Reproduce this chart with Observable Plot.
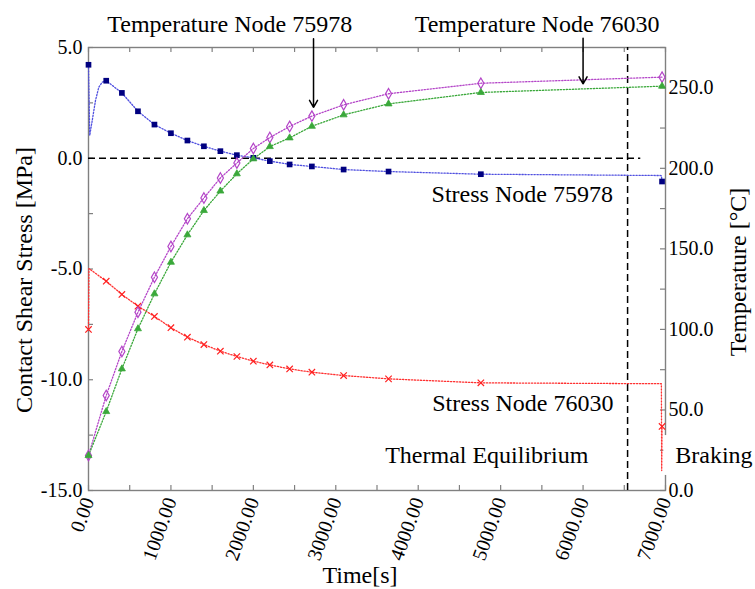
<!DOCTYPE html>
<html>
<head>
<meta charset="utf-8">
<script src="https://cdn.jsdelivr.net/npm/d3@7"></script>
<script src="https://cdn.jsdelivr.net/npm/@observablehq/plot@0.6"></script>
<style>
  html, body { margin: 0; padding: 0; background: #fff; }
  #chart { width: 755px; height: 589px; }
  #chart svg, #chart svg g, #chart svg text, #chart svg tspan { font-family: 'Liberation Serif', 'Times New Roman', serif !important; font-variant: normal !important; }
</style>
</head>
<body>
<div id="chart"></div>
<script>
// ---- data (time in s, stress in MPa, temperature in °C) ----
const markTimes   = [0, 215, 405, 600, 800, 1000, 1200, 1400, 1600, 1800, 2000, 2200, 2440, 2710, 3095, 3640, 4760, 6958];
const stress75978 = [4.22, 3.50, 2.95, 2.12, 1.52, 1.13, 0.80, 0.54, 0.32, 0.14, 0.02, -0.13, -0.28, -0.37, -0.51, -0.60, -0.72, -1.05];
const stress76030 = [-7.73, -5.55, -6.15, -6.68, -7.14, -7.65, -8.08, -8.41, -8.71, -8.95, -9.16, -9.33, -9.51, -9.66, -9.81, -9.96, -10.14, -12.11];
const temp75978   = [21.7, 59.0, 86.3, 110.7, 132.4, 151.5, 168.7, 181.6, 194.0, 203.3, 212.3, 219.1, 226.0, 232.4, 239.4, 246.3, 252.8, 256.6];
const temp76030   = [21.7, 49.0, 75.5, 100.4, 122.1, 141.7, 158.7, 173.8, 185.9, 196.6, 205.9, 213.5, 218.9, 226.1, 233.2, 240.0, 247.1, 251.0];

// extra (unmarked) samples of the dotted curves
const extra75978Times  = [15, 45, 85, 125, 166, 6950];
const extra75978Stress = [1.03, 1.70, 2.61, 3.21, 3.43, -0.78];
const extra76030Times  = [5, 6950, 6954];
const extra76030Stress = [-4.98, -10.18, -14.10];

// axes
const xTickLabels = [0, 1000, 2000, 3000, 4000, 5000, 6000, 7000];
const xTicksAll   = d3.range(0, 7001, 500);
const yTickLabels = [-15, -10, -5, 0, 5];
const yTicksAll   = d3.range(-15, 5.01, 2.5);
const tTickLabels = [0, 50, 100, 150, 200, 250];
const tTicksAll   = d3.range(0, 275.1, 25);

// reference lines
const zeroLineEnd = 6700;
const phaseTime = 6540;

// annotations
const noteText   = ["Temperature Node 75978", "Temperature Node 76030", "Stress Node 75978", "Stress Node 76030", "Thermal Equilibrium", "Braking"];
const noteTime   = [1713, 5443, 6362, 6369, 3599, 7118];
const noteStress = [5.70, 5.70, -1.98, -11.42, -13.77, -13.77];
const noteAnchor = ["middle", "middle", "end", "end", "start", "start"];
const arrowTime  = [2730, 6000];
const arrowFrom  = [5.40, 5.42];
const arrowTo    = [2.30, 3.36];

// ---- helpers ----
const tMax = 275, yMin = -15, yMax = 5;
const toY = (t) => yMin + t * (yMax - yMin) / tMax;
const fromY = (y) => (y - yMin) * tMax / (yMax - yMin);

const pts = (times, vals) => times.map((t, i) => ({t, v: vals[i]}));
const s1Marks = pts(markTimes, stress75978);
const s2Marks = pts(markTimes, stress76030);
const t1Marks = pts(markTimes, temp75978.map(toY));
const t2Marks = pts(markTimes, temp76030.map(toY));
const s1Line = s1Marks.concat(pts(extra75978Times, extra75978Stress)).sort((a, b) => a.t - b.t);
const s2Line = s2Marks.concat(pts(extra76030Times, extra76030Stress)).sort((a, b) => a.t - b.t);

const notes = noteText.map((text, i) => ({text, t: noteTime[i], v: noteStress[i], anchor: noteAnchor[i]}));
const arrows = arrowTime.map((t, i) => ({t, v1: arrowFrom[i], v2: arrowTo[i]}));

const gray = "#808080";
const dots = "1.3,1.7";
const font = "'Liberation Serif', 'Times New Roman', serif";
const W = 755, H = 589, mL = 88, mR = 90, mT = 47, mB = 99;
const fw = W - mL - mR, fh = H - mT - mB, tk = 5;

const noteMark = (anchor) => Plot.text(notes.filter((d) => d.anchor === anchor),
  {x: "t", y: "v", text: "text", textAnchor: anchor, lineAnchor: "bottom", fontSize: 24, fontFamily: font, fill: "#000", clip: false});

const chart = Plot.plot({
  width: W,
  height: H,
  marginLeft: mL,
  marginRight: mR,
  marginTop: mT,
  marginBottom: mB,
  x: {domain: [0, 7000]},
  y: {domain: [yMin, yMax]},
  style: {fontFamily: font, fontSize: "20px", background: "#fff", color: "#000", overflow: "visible"},
  marks: [
    // inward ticks on all four sides
    Plot.tickX(xTicksAll, {x: (d) => d, insetTop: fh - tk, stroke: gray, strokeWidth: 1.2}),
    Plot.tickX(xTicksAll, {x: (d) => d, insetBottom: fh - tk, stroke: gray, strokeWidth: 1.2}),
    Plot.tickY(yTicksAll, {y: (d) => d, insetRight: fw - tk, stroke: gray, strokeWidth: 1.2}),
    Plot.tickY(tTicksAll, {y: (d) => toY(d), insetLeft: fw - tk, stroke: gray, strokeWidth: 1.2}),
    // tick labels
    Plot.axisX({anchor: "bottom", ticks: xTickLabels, tickSize: 0, tickPadding: 8, tickRotate: -70, tickFormat: (d) => d.toFixed(2), label: null, fontSize: 20, fontFamily: font}),
    Plot.axisY({anchor: "left", ticks: yTickLabels, tickSize: 0, tickPadding: 6, tickFormat: (d) => d.toFixed(1), label: null, fontSize: 20, fontFamily: font}),
    Plot.axisY({anchor: "right", ticks: tTickLabels.map(toY), tickSize: 0, tickPadding: 3, tickFormat: (d) => fromY(d).toFixed(1), label: null, fontSize: 20, fontFamily: font}),
    Plot.frame({stroke: gray, strokeWidth: 1.4}),

    // reference dashed lines
    Plot.ruleY([0], {x1: 0, x2: zeroLineEnd, stroke: "#000", strokeWidth: 1.5, strokeDasharray: "7,4"}),
    Plot.ruleX([phaseTime], {y1: yMin, y2: yMax, stroke: "#000", strokeWidth: 1.5, strokeDasharray: "7,4"}),

    // series lines (dotted)
    Plot.line(s1Line, {x: "t", y: "v", stroke: "#5050e0", strokeWidth: 1.3, strokeDasharray: dots}),
    Plot.line(s2Line, {x: "t", y: "v", stroke: "#ff3030", strokeWidth: 1.3, strokeDasharray: dots}),
    Plot.line(t1Marks, {x: "t", y: "v", stroke: "#b445c8", strokeWidth: 1.3, strokeDasharray: dots}),
    Plot.line(t2Marks, {x: "t", y: "v", stroke: "#3aa83a", strokeWidth: 1.3, strokeDasharray: dots}),

    // markers
    Plot.dot(s1Marks, {x: "t", y: "v", symbol: "square", r: 3.2, fill: "#000080", stroke: "none"}),
    Plot.dot(s2Marks, {x: "t", y: "v", symbol: "times", r: 3, stroke: "#ff2020", strokeWidth: 1.2}),
    Plot.dot(t1Marks, {x: "t", y: "v", symbol: "diamond", r: 3.2, fill: "none", stroke: "#b445c8", strokeWidth: 1.2}),
    Plot.dot(t2Marks, {x: "t", y: "v", symbol: "triangle", r: 2.6, fill: "#3aa83a", stroke: "#3aa83a", strokeWidth: 0.8}),

    // annotation arrows
    Plot.arrow(arrows, {x: "t", y1: "v1", y2: "v2", stroke: "#000", strokeWidth: 1.5, headLength: 8, clip: false}),

    // white box behind "Braking"
    Plot.rect([{x1: 6980, x2: 8100, y1: -14.32, y2: -12.52}], {x1: "x1", x2: "x2", y1: "y1", y2: "y2", fill: "#fff", clip: false}),

    // annotations
    noteMark("middle"),
    noteMark("end"),
    noteMark("start"),

    // axis titles
    Plot.text(["Contact Shear Stress [MPa]"], {frameAnchor: "left", rotate: -90, dx: -57, dy: 11, lineAnchor: "bottom", textAnchor: "middle", fontSize: 24, fontFamily: font, fill: "#000"}),
    Plot.text(["Temperature [°C]"], {frameAnchor: "right", rotate: -90, dx: 80, dy: 3, lineAnchor: "bottom", textAnchor: "middle", fontSize: 24, fontFamily: font, fill: "#000"}),
    Plot.text(["Time[s]"], {frameAnchor: "bottom", dx: -17, dy: 92, lineAnchor: "bottom", textAnchor: "middle", fontSize: 24, fontFamily: font, fill: "#000"})
  ]
});
d3.select(chart).selectAll("g, text").attr("font-family", font).attr("font-variant", null);
document.getElementById("chart").appendChild(chart);
</script>
</body>
</html>
